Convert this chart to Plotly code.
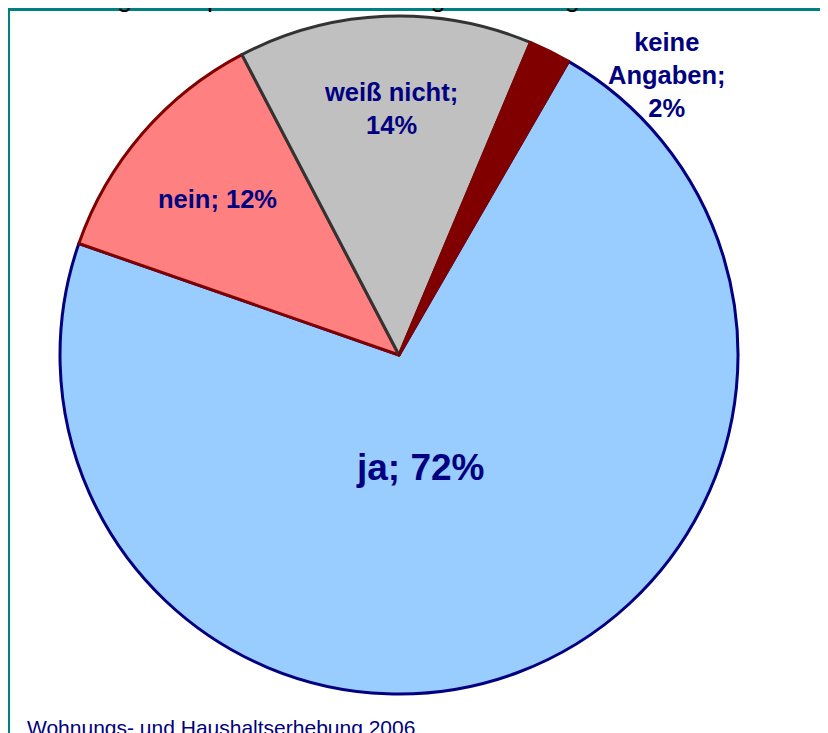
import plotly.graph_objects as go

PAGE_W, PAGE_H = 828, 733
OFF = 8  # the page body adds an 8px margin; positions below are given in page pixels
W, H = PAGE_W - OFF, PAGE_H - OFF

labels = ["ja", "nein", "weiß nicht", "keine Angaben"]
values = [72, 12, 14, 2]
fill_colors = ["#99CCFF", "#FF8080", "#C0C0C0", "#800000"]
line_colors = ["#000080", "#800000", "#333333", "#800000"]

title_text = "Abbildung 20: repräsentative Umfragen als Bürgervotum:"
source_text = "Wohnungs- und Haushaltserhebung 2006"

label_texts = ["ja; 72%", "nein; 12%", "weiß nicht;<br>14%", "keine<br>Angaben;<br>2%"]
# label centres in page pixels (x, y from top) and font sizes
label_pos = [(420, 467, 37), (217, 199, 25.5), (391, 108, 25.5), (667, 75, 25.5)]


def px(x):
    return (x - OFF) / W


def py(y):
    return 1 - (y - OFF) / H


cx, cy, r = 399, 355, 339

fig = go.Figure(go.Pie(
    labels=labels,
    values=values,
    sort=False,
    direction="clockwise",
    rotation=30,
    textinfo="none",
    hoverinfo="label+percent",
    marker=dict(colors=fill_colors, line=dict(color=line_colors, width=3)),
    domain=dict(x=[px(cx - r), px(cx + r)], y=[py(cy + r), py(cy - r)]),
    showlegend=False,
))

annotations = []
for t, (x, y, s) in zip(label_texts, label_pos):
    annotations.append(dict(
        x=px(x), y=py(y), xref="paper", yref="paper", text="<b>" + t + "</b>",
        showarrow=False, xanchor="center", yanchor="middle",
        font=dict(family="Arial, Liberation Sans", size=s, color="#000080"),
    ))

annotations.append(dict(
    x=px(12), y=py(15.5), xref="paper", yref="paper", text=title_text,
    showarrow=False, xanchor="left", yanchor="bottom",
    font=dict(family="Arial, Liberation Sans", size=26.5, color="#000000"),
))
annotations.append(dict(
    x=px(25), y=py(727), xref="paper", yref="paper", text=source_text,
    showarrow=False, xanchor="left", yanchor="middle",
    font=dict(family="Arial, Liberation Sans", size=21, color="#000080"),
))

shapes = [
    dict(type="line", xref="paper", yref="paper", x0=px(7), x1=px(PAGE_W + 20), y0=py(9.5), y1=py(9.5),
         line=dict(color="#008080", width=3)),
    dict(type="line", xref="paper", yref="paper", x0=px(8.5), x1=px(8.5), y0=py(8), y1=py(PAGE_H + 20),
         line=dict(color="#008080", width=3)),
]

fig.update_layout(
    width=W, height=H,
    margin=dict(l=0, r=0, t=0, b=0),
    paper_bgcolor="white",
    plot_bgcolor="white",
    annotations=annotations,
    shapes=shapes,
)

fig.write_html("out.html")
